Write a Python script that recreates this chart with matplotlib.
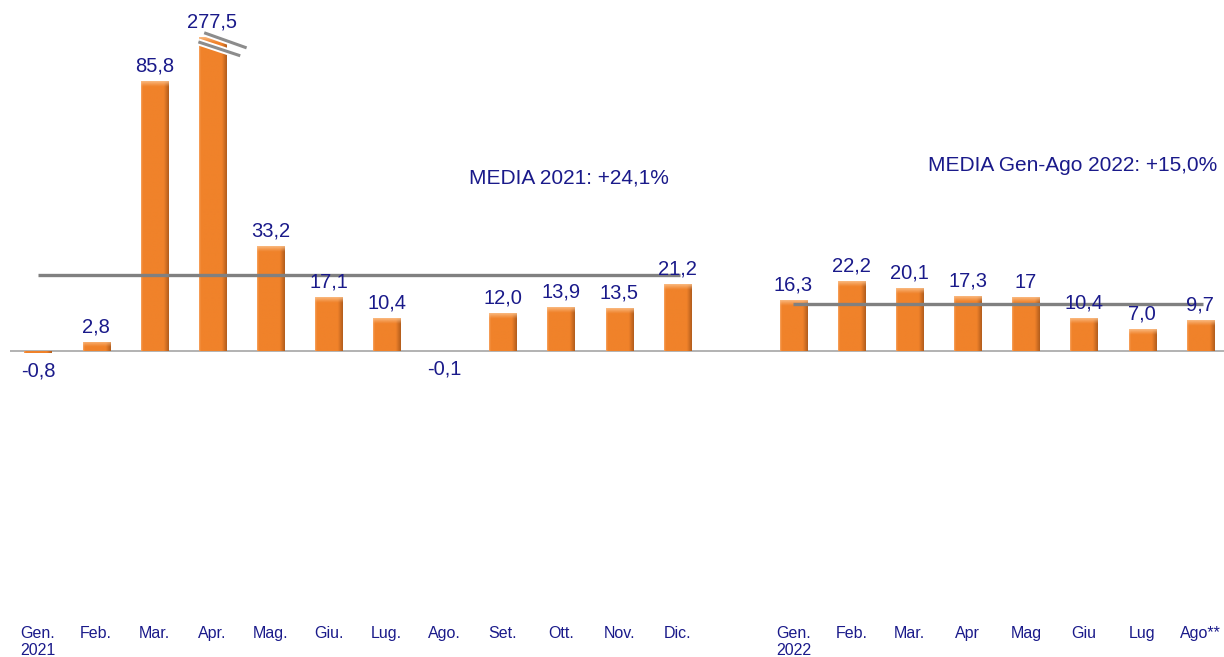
import matplotlib
matplotlib.use("Agg")
import matplotlib.pyplot as plt
import numpy as np
from matplotlib.colors import to_rgb

plt.rcParams['font.family'] = ['Liberation Sans', 'DejaVu Sans']

# ---- data ----
months_2021 = ["Gen.\n2021", "Feb.", "Mar.", "Apr.", "Mag.", "Giu.", "Lug.", "Ago.",
               "Set.", "Ott.", "Nov.", "Dic."]
values_2021 = [-0.8, 2.8, 85.8, 277.5, 33.2, 17.1, 10.4, -0.1, 12.0, 13.9, 13.5, 21.2]
labels_2021 = ["-0,8", "2,8", "85,8", "277,5", "33,2", "17,1", "10,4", "-0,1",
               "12,0", "13,9", "13,5", "21,2"]

months_2022 = ["Gen.\n2022", "Feb.", "Mar.", "Apr", "Mag", "Giu", "Lug", "Ago**"]
values_2022 = [16.3, 22.2, 20.1, 17.3, 17.0, 10.4, 7.0, 9.7]
labels_2022 = ["16,3", "22,2", "20,1", "17,3", "17", "10,4", "7,0", "9,7"]

mean_2021 = 24.1
mean_2022 = 15.0
mean_text_2021 = "MEDIA 2021: +24,1%"
mean_text_2022 = "MEDIA Gen-Ago 2022: +15,0%"

# display cap for the broken (truncated) bar
CAP = 99.7

# ---- positions ----
x21 = np.arange(len(values_2021))
x22 = np.arange(len(values_2022)) + len(values_2021) + 1
xs = np.concatenate([x21, x22])
vals = np.array(values_2021 + values_2022)
labs = labels_2021 + labels_2022
ticks = months_2021 + months_2022
shown = np.minimum(vals, CAP)

W, H = 1224, 657
fig = plt.figure(figsize=(W / 100, H / 100), dpi=100)
ax = fig.add_axes([10 / W, (H - 620) / H, 1214 / W, 620 / H])
ax.set_xlim(-0.482, 20.41)
ax.set_ylim(-85.4, 111.4)

txt_color = '#1A1A8A'
orange = '#F0822A'
bw = 0.465

# baseline
ax.axhline(0, color='#A6A6A6', lw=1.2, zorder=1)

# main bars
bars = ax.bar(xs, shown, width=bw, color=orange, edgecolor='none', zorder=2)

# bevel shading: horizontal gradient overlay clipped to each bar
base = np.array(to_rgb(orange))
dark = np.array(to_rgb('#A8561A'))
light = np.array(to_rgb('#F7A25E'))
n = 60
u = np.linspace(0, 1, n)
prof = np.zeros((n, 3))
for i, t in enumerate(u):
    if t < 0.06:
        prof[i] = light * (1 - t / 0.06) + base * (t / 0.06)
    elif t < 0.82:
        prof[i] = base
    else:
        k = (t - 0.82) / 0.18
        prof[i] = base * (1 - 0.85 * k) + dark * (0.85 * k)
img = prof[np.newaxis, :, :]
for b, x, s in zip(bars, xs, shown):
    if s == 0:
        continue
    y0, y1 = (0, s) if s > 0 else (s, 0)
    im = ax.imshow(img, extent=(x - bw / 2, x + bw / 2, y0, y1), aspect='auto',
                   interpolation='bilinear', zorder=3)
    im.set_clip_path(b)

# top highlight (thin light band with vertical gradient)
ncol = 20
tb = np.zeros((ncol, 1, 4))
for i in range(ncol):
    a = i / (ncol - 1)
    tb[i, 0, :3] = to_rgb('#FBC08A')
    tb[i, 0, 3] = 0.9 * (1 - a) ** 1.2
for b, x, s in zip(bars, xs, shown):
    if s <= 0.5:
        continue
    h = min(1.9, s * 0.6)
    im = ax.imshow(tb, extent=(x - bw / 2, x + bw / 2, s - h, s), aspect='auto',
                   interpolation='bilinear', origin='upper', zorder=4)
    im.set_clip_path(b)

ax.set_xlim(-0.482, 20.41)
ax.set_ylim(-85.4, 111.4)

# mean lines
ax.hlines(mean_2021, x21[0], x21[-1] + 0.05, color='#808080', lw=2.4, zorder=5)
ax.hlines(mean_2022, x22[0], x22[-1] + 0.05, color='#808080', lw=2.4, zorder=5)

# value labels
for x, v, s, l in zip(xs, vals, shown, labs):
    if v >= 0:
        ax.annotate(l, (x, s), xytext=(0, 4), textcoords='offset points',
                    ha='center', va='bottom', fontsize=14.5, color=txt_color, zorder=6)
    else:
        ax.annotate(l, (x, s), xytext=(0, -6), textcoords='offset points',
                    ha='center', va='top', fontsize=14.5, color=txt_color, zorder=6)

# break marks on truncated bar
xb = xs[np.argmax(vals)]
segs = [((xb - 0.14, 101.0), (xb + 0.59, 96.2)),
        ((xb - 0.24, 98.1), (xb + 0.48, 93.7))]
for (p0, p1) in segs:
    ax.plot([p0[0], p1[0]], [p0[1], p1[1]], color='white', lw=5,
            solid_capstyle='butt', zorder=7)
for (p0, p1) in segs:
    ax.plot([p0[0], p1[0]], [p0[1], p1[1]], color='#8C8C8C', lw=2.2,
            solid_capstyle='butt', zorder=8)

# mean texts
ax.text(7.42, 54.9, mean_text_2021, ha='left', va='center', fontsize=15, color=txt_color)
ax.text(15.32, 59.0, mean_text_2022, ha='left', va='center', fontsize=15, color=txt_color)

# x tick labels
ax.set_xticks(xs)
ax.set_xticklabels(ticks, fontsize=11.5, color=txt_color)
for t in ax.get_xticklabels():
    t.set_multialignment('left')
ax.tick_params(axis='x', length=0, pad=4)
ax.set_yticks([])
for sp in ax.spines.values():
    sp.set_visible(False)

fig.savefig('out.png', dpi=100)
